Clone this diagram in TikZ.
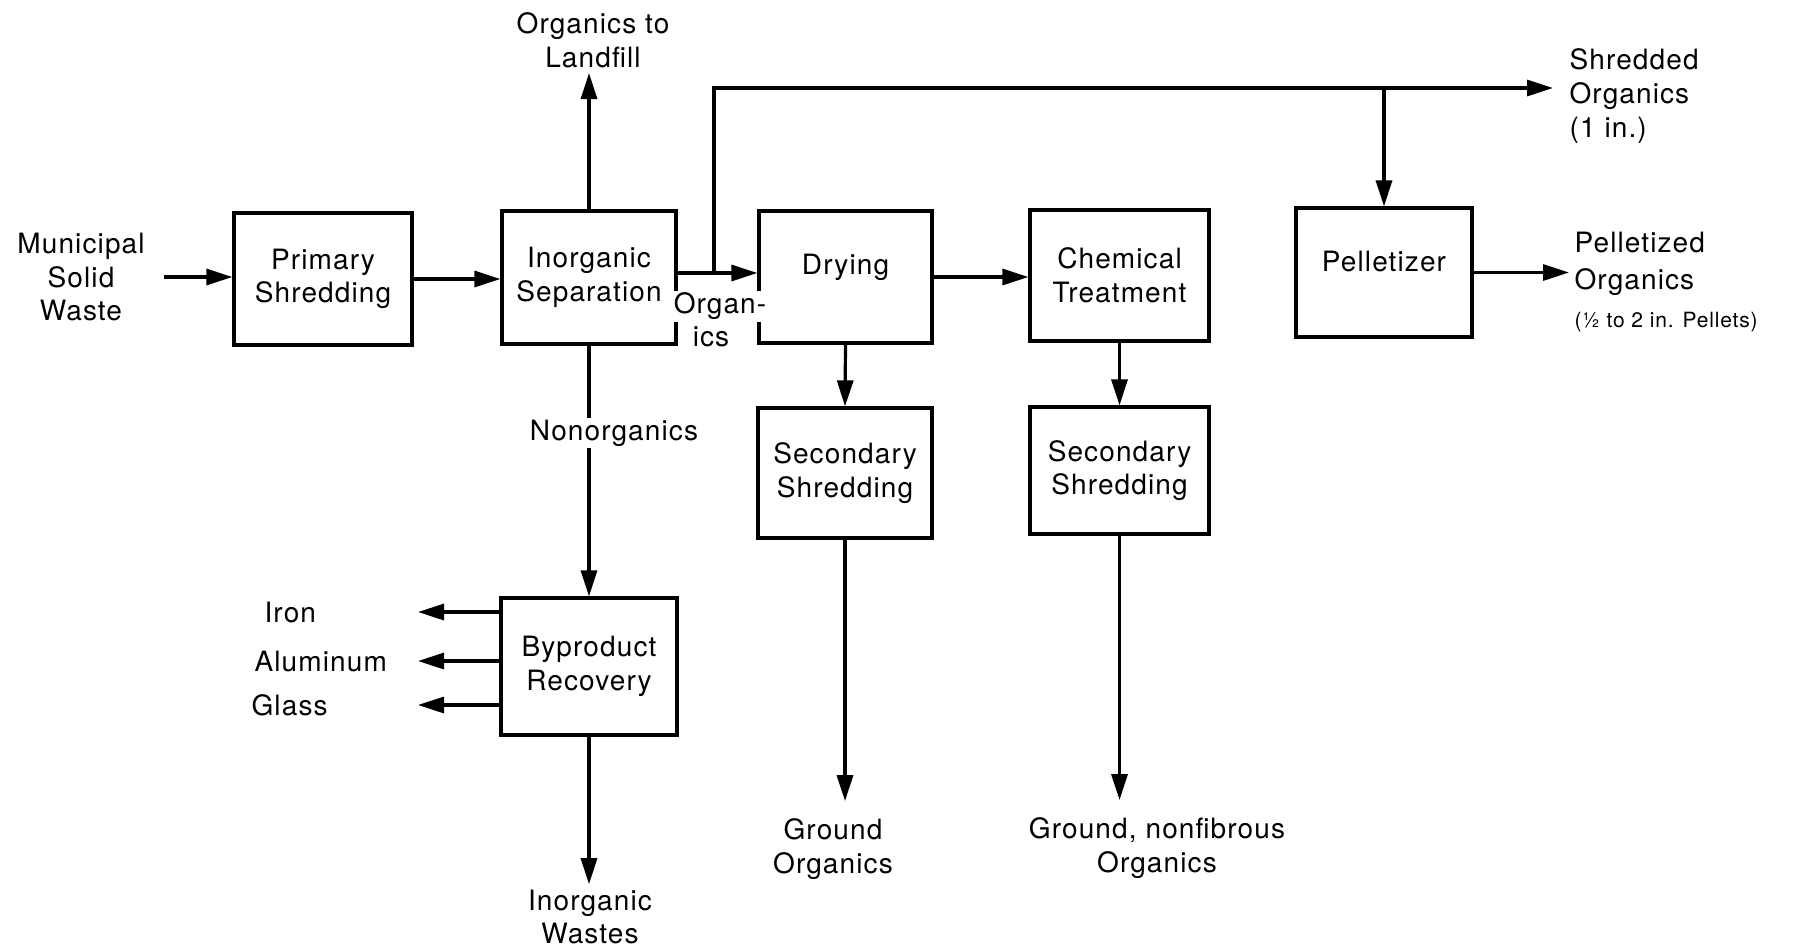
\documentclass[tikz,border=0pt]{standalone}
\usepackage{fontspec}
\setmainfont{TeX Gyre Heros}[LetterSpace=4.0]
\usetikzlibrary{arrows.meta}
\begin{document}
\begin{tikzpicture}[x=.5pt,y=-.5pt,line width=1.6pt,
    font=\fontsize{14}{16.8}\selectfont,
    unit/.style={draw,align=center,inner sep=2pt},
    flow/.style={-{Triangle[length=13pt,width=8pt]}},
    lbl/.style={align=center,inner sep=2pt},
    gap/.style={lbl,fill=white,inner sep=1pt}]
\useasboundingbox (0,0) rectangle (1809,949);
% process units
\node[unit,minimum width=89pt,minimum height=66pt] (prim) at (323,279) {Primary\\Shredding};
\node[unit,minimum width=87pt,minimum height=66.5pt] (insep) at (589,277.5) {Inorganic\\Separation};
\node[unit,minimum width=86.5pt,minimum height=66pt,text depth=13pt] (dry) at (845.5,277) {Drying};
\node[unit,minimum width=89.5pt,minimum height=65.5pt] (chem) at (1119.5,275.5) {Chemical\\Treatment};
\node[unit,minimum width=88pt,minimum height=64.5pt,text depth=11.5pt] (pell) at (1384,272.5) {Pelletizer};
\node[unit,minimum width=87pt,minimum height=65pt] (secA) at (845,473) {Secondary\\Shredding};
\node[unit,minimum width=89.5pt,minimum height=63.5pt] (secB) at (1119.5,470.5) {Secondary\\Shredding};
\node[unit,minimum width=88pt,minimum height=68.5pt] (byp) at (589,666.5) {Byproduct\\Recovery};
% inputs and outputs
\node[lbl] (msw) at (81,277) {Municipal\\Solid\\Waste};
\node[lbl] (olf) at (593,40) {Organics to\\Landfill};
\node[lbl,anchor=west,align=left] (shrtxt) at (1564,96) {Shredded\\Organics\\(1 in.)};
\node[lbl,anchor=west,align=left] (peltxt) at (1569,282) {Pelletized\\[2pt]Organics\\[2pt]{\fontsize{10.5}{12}\selectfont (½ to 2 in. Pellets)}};
\node[lbl] (gorg) at (833,849) {Ground\\Organics};
\node[lbl] (gnf) at (1157,848) {Ground, nonfibrous\\Organics};
\node[lbl] (iw) at (590,917) {Inorganic\\Wastes};
% main line
\draw[flow,shorten <=7pt] (msw.east) -- (msw.east -| prim.west);
\draw[flow] (prim.east) -- (prim.east -| insep.west);
\coordinate (fork) at (714,273);
\draw[flow] (insep.east |- fork) -- (dry.west |- fork);
\coordinate (shr) at (1553,88);
\draw[flow] (fork) |- (shr);
\draw[flow] (pell.north |- shr) -- (pell.north);
\draw[flow] (pell.east) -- (pell.east -| peltxt.west);
\draw[flow] (insep.north) -- (insep.north |- olf.south);
\draw[flow] (insep.south) -- (byp.north);
\node[gap] (nonorg) at (614,433) {Nonorganics};
\node[gap] (orgsA) at (720,306) {Organ-};
\node[lbl] (orgsB) at (711,337) {ics};
\draw[flow] (dry.east) -- (dry.east -| chem.west);
\draw[flow] (dry.south) -- (secA.north);
\draw[flow] (chem.south) -- (secB.north);
\draw[flow,shorten >=6pt] (secA.south) -- (secA.south |- gorg.north);
\draw[flow,shorten >=6pt] (secB.south) -- (secB.south |- gnf.north);
\draw[flow] (byp.south) -- (byp.south |- iw.north);
% recovered materials
\foreach \nm/\yy/\xx/\txt in {iron/612/259/Iron, alu/661/249/Aluminum, gls/705/246/Glass}{
  \node[lbl,anchor=west] (\nm) at (\xx,\yy) {\txt};
  \coordinate (\nm tip) at (418,\yy);
  \draw[flow] (byp.west |- \nm tip) -- (\nm tip);
}
\end{tikzpicture}
\end{document}
